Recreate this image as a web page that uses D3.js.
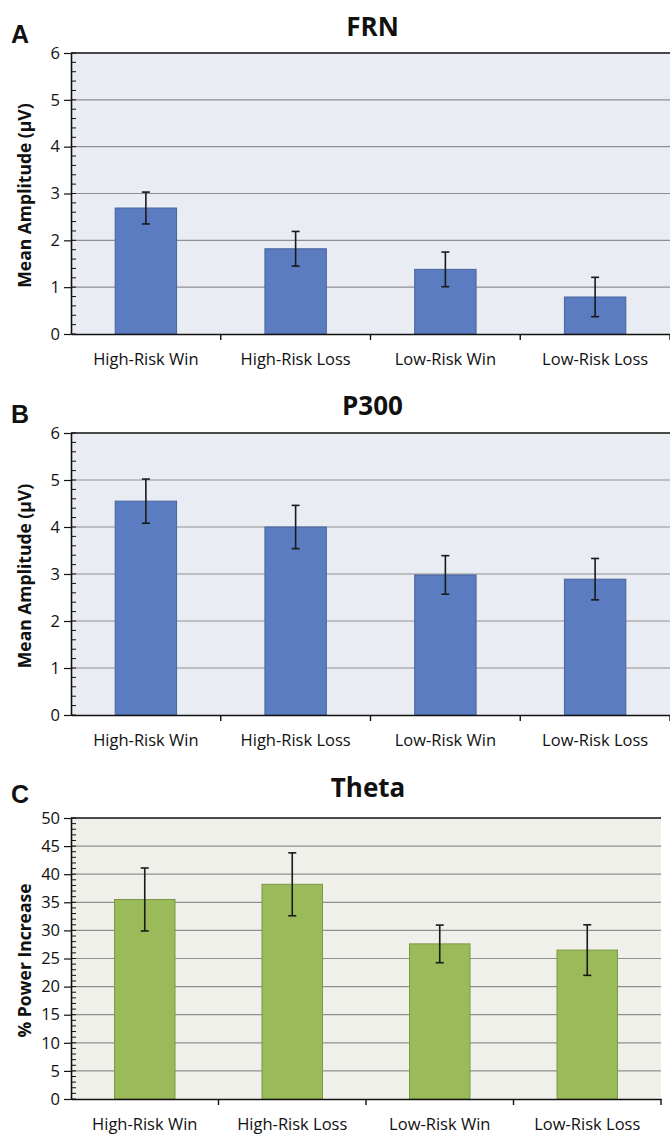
<!DOCTYPE html>
<html>
<head>
<meta charset="utf-8">
<script src="https://cdn.jsdelivr.net/npm/d3@7"></script>
<style>
	body { margin: 0; background: #fff; }
	svg { display: block; }
</style>
</head>
<body>
<svg id="chart" width="670" height="1134"></svg>
<script>

//Data

var categories = ["High-Risk Win", "High-Risk Loss", "Low-Risk Win", "Low-Risk Loss"];

var frnMeans = [2.69, 1.82, 1.38, 0.79];
var frnErrors = [0.34, 0.37, 0.37, 0.42];

var p300Means = [4.55, 4.0, 2.98, 2.89];
var p300Errors = [0.47, 0.46, 0.41, 0.44];

var thetaMeans = [35.5, 38.2, 27.6, 26.5];
var thetaErrors = [5.6, 5.6, 3.35, 4.5];

var ampTicks = [0, 1, 2, 3, 4, 5, 6];
var powerTicks = [0, 5, 10, 15, 20, 25, 30, 35, 40, 45, 50];

//SVG setup

var svg = d3.select("svg#chart");
var font = "'Open Sans', sans-serif";

function drawPanel(p) {

	var x = d3.scaleBand()
		.domain(categories)
		.range([p.left, p.right])
		.paddingInner(0)
		.paddingOuter(0);

	var y = d3.scaleLinear()
		.domain([0, d3.max(p.ticks)])
		.range([p.bottom, p.top]);

	var g = svg.append("g").attr("class", "panel");

	//plot background
	g.append("rect")
		.attr("x", p.left)
		.attr("y", p.top)
		.attr("width", p.right - p.left)
		.attr("height", p.bottom - p.top)
		.attr("fill", p.bg);

	//gridlines
	g.selectAll(".grid")
		.data(p.ticks.slice(1, -1))
		.enter().append("line")
		.attr("class", "grid")
		.attr("x1", p.left)
		.attr("x2", p.right)
		.attr("y1", function(d) { return y(d); })
		.attr("y2", function(d) { return y(d); })
		.attr("stroke", "#8f8f8f")
		.attr("stroke-width", 1.2);

	//top border
	g.append("line")
		.attr("x1", p.left)
		.attr("x2", p.right)
		.attr("y1", p.top)
		.attr("y2", p.top)
		.attr("stroke", "#111")
		.attr("stroke-width", 1.6);

	//bars
	var bw = x.bandwidth() * 0.41;

	g.selectAll(".bar")
		.data(p.means)
		.enter().append("rect")
		.attr("class", "bar")
		.attr("x", function(d, i) { return x(categories[i]) + x.bandwidth() / 2 - bw / 2; })
		.attr("y", function(d) { return y(d); })
		.attr("width", bw)
		.attr("height", function(d) { return y(0) - y(d); })
		.attr("fill", p.fill)
		.attr("stroke", p.stroke)
		.attr("stroke-width", 1);

	//error bars
	var err = g.selectAll(".err")
		.data(p.means)
		.enter().append("g")
		.attr("class", "err")
		.attr("transform", function(d, i) { return "translate(" + (x(categories[i]) + x.bandwidth() / 2) + ",0)"; });

	err.append("line")
		.attr("y1", function(d, i) { return y(d + p.errors[i]); })
		.attr("y2", function(d, i) { return y(d - p.errors[i]); })
		.attr("stroke", "#1a1a1a")
		.attr("stroke-width", 1.6);

	err.selectAll(".cap")
		.data(function(d, i) { return [d + p.errors[i], d - p.errors[i]]; })
		.enter().append("line")
		.attr("x1", -4)
		.attr("x2", 4)
		.attr("y1", function(v) { return y(v); })
		.attr("y2", function(v) { return y(v); })
		.attr("stroke", "#1a1a1a")
		.attr("stroke-width", 1.6);

	//y axis with minor ticks
	var minor = d3.range(0, d3.max(p.ticks) + p.minorStep / 2, p.minorStep);

	g.selectAll(".minor")
		.data(minor)
		.enter().append("line")
		.attr("class", "minor")
		.attr("x1", p.left)
		.attr("x2", p.left + 5)
		.attr("y1", function(d) { return y(d); })
		.attr("y2", function(d) { return y(d); })
		.attr("stroke", "#111")
		.attr("stroke-width", 1);

	var yAxis = g.append("g")
		.attr("transform", "translate(" + p.left + ",0)")
		.call(d3.axisLeft(y)
			.tickValues(p.ticks)
			.tickFormat(d3.format("d"))
			.tickSizeInner(7)
			.tickSizeOuter(0)
			.tickPadding(4));

	yAxis.select(".domain").attr("stroke", "#111").attr("stroke-width", 1.6);
	yAxis.selectAll(".tick line").attr("stroke", "#111").attr("stroke-width", 1.2);
	yAxis.selectAll(".tick text")
		.attr("font-family", font)
		.attr("font-size", "16.5px")
		.attr("fill", "#111");

	//x axis
	var xAxis = g.append("g")
		.attr("transform", "translate(0," + p.bottom + ")")
		.call(d3.axisBottom(x).tickSize(0).tickPadding(19));

	xAxis.select(".domain").attr("stroke", "#111").attr("stroke-width", 1.6);
	xAxis.selectAll(".tick text")
		.attr("font-family", font)
		.attr("font-size", "16.5px")
		.attr("fill", "#111");

	//category boundary ticks
	g.selectAll(".bound")
		.data(categories.slice(1).concat([null]))
		.enter().append("line")
		.attr("class", "bound")
		.attr("x1", function(d) { return d ? x(d) : p.right; })
		.attr("x2", function(d) { return d ? x(d) : p.right; })
		.attr("y1", p.bottom)
		.attr("y2", p.bottom + 6)
		.attr("stroke", "#111")
		.attr("stroke-width", 1.4);

	//title
	g.append("text")
		.attr("x", (p.left + p.right) / 2 + 2)
		.attr("y", p.titleY)
		.attr("text-anchor", "middle")
		.attr("font-family", font)
		.attr("font-weight", "bold")
		.attr("font-size", "26px")
		.attr("fill", "#111")
		.text(p.title);

	//panel letter
	g.append("text")
		.attr("x", 11)
		.attr("y", p.letterY)
		.attr("font-family", "'Liberation Sans', Arial, sans-serif")
		.attr("font-weight", "bold")
		.attr("font-size", "25px")
		.attr("fill", "#111")
		.text(p.letter);

	//y label
	g.append("text")
		.attr("transform", "translate(31," + ((p.top + p.bottom) / 2 + 2) + ") rotate(-90)")
		.attr("text-anchor", "middle")
		.attr("font-family", font)
		.attr("font-weight", "bold")
		.attr("font-size", "17.5px")
		.attr("fill", "#111")
		.text(p.yLabel);
}

drawPanel({
	letter: "A", letterY: 43, title: "FRN", titleY: 36, yLabel: "Mean Amplitude (\u00b5V)",
	left: 71, right: 670, top: 53, bottom: 334,
	ticks: ampTicks, minorStep: 0.2,
	means: frnMeans, errors: frnErrors,
	bg: "#e9ecf3", fill: "#5b7cc0", stroke: "#46649f"
});

drawPanel({
	letter: "B", letterY: 423, title: "P300", titleY: 415, yLabel: "Mean Amplitude (\u00b5V)",
	left: 71, right: 670, top: 433, bottom: 715,
	ticks: ampTicks, minorStep: 0.2,
	means: p300Means, errors: p300Errors,
	bg: "#e9ecf3", fill: "#5b7cc0", stroke: "#46649f"
});

drawPanel({
	letter: "C", letterY: 803, title: "Theta", titleY: 797, yLabel: "% Power Increase",
	left: 71, right: 661, top: 818, bottom: 1099,
	ticks: powerTicks, minorStep: 1,
	means: thetaMeans, errors: thetaErrors,
	bg: "#eef0e9", fill: "#9bba59", stroke: "#7b9845"
});

</script>
</body>
</html>
